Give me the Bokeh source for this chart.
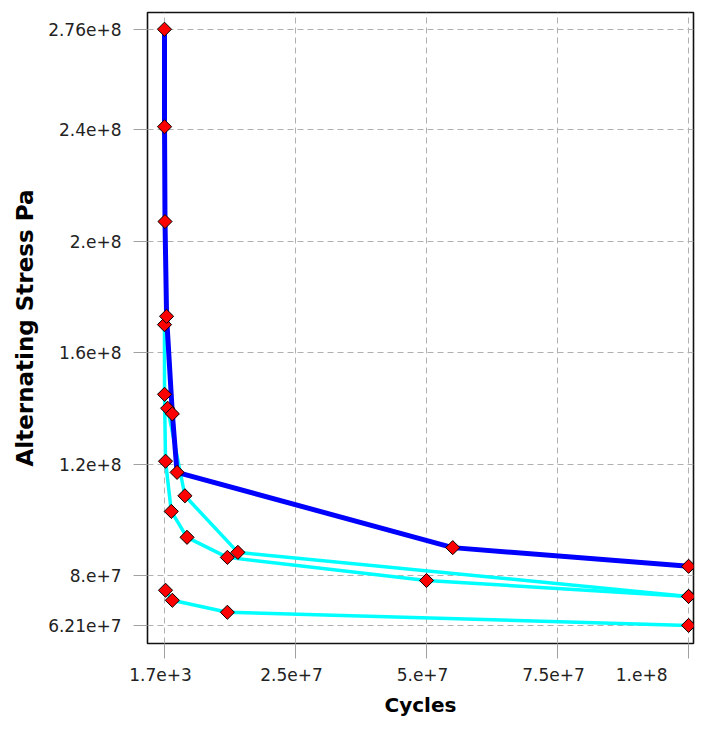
import math
from bokeh.plotting import figure
from bokeh.models import Range1d, FixedTicker, LinearAxis
from bokeh.embed import file_html
from bokeh.resources import INLINE

# ---- data ----
blue_cycles = [1.7e3, 1.0e4, 1.0e5, 4.0e5, 1.5e6, 2.4e6, 5.5e7, 1.0e8]
blue_stress = [2.76e8, 2.41e8, 2.07e8, 1.73e8, 1.38e8, 1.17e8, 9.0e7, 8.33e7]

cyan1_cycles = [1.7e3, 1.0e4, 2.0e5, 1.3e6, 4.3e6, 1.2e7, 5.0e7, 1.0e8]
cyan1_stress = [1.70e8, 1.45e8, 1.21e8, 1.03e8, 9.37e7, 8.65e7, 7.82e7, 7.25e7]

cyan2_cycles = [6.0e5, 3.9e6, 1.4e7, 1.0e8]
cyan2_stress = [1.40e8, 1.086e8, 8.83e7, 7.25e7]

cyan3_cycles = [2.0e5, 1.5e6, 1.2e7, 1.0e8]
cyan3_stress = [7.47e7, 7.11e7, 6.68e7, 6.21e7]

x_ticks = [1.7e3, 2.5e7, 5.0e7, 7.5e7, 1.0e8]
x_tick_labels = ["1.7e+3", "2.5e+7", "5.e+7", "7.5e+7", "1.e+8"]
y_ticks = [6.21e7, 8.0e7, 1.2e8, 1.6e8, 2.0e8, 2.4e8, 2.76e8]
y_tick_labels = ["6.21e+7", "8.e+7", "1.2e+8", "1.6e+8", "2.e+8", "2.4e+8", "2.76e+8"]

x_title = "Cycles"
y_title = "Alternating Stress Pa"

# ---- layout ----
W, H = 695, 720
BL, BR, BT, BB = 147, 2, 12, 77
X0, X1 = -3.24e6, 1.0094e8
Y0, Y1 = 5.56e7, 2.82e8
frame_w = W - BL - BR
label_shift_px = 4          # tick labels sit slightly left of their ticks
last_label_shift_px = 47    # the last x label is pulled left so that it stays inside the canvas

p = figure(width=W, height=H, output_backend="svg", toolbar_location=None,
           x_range=Range1d(X0, X1), y_range=Range1d(Y0, Y1),
           min_border_left=BL, min_border_right=BR, min_border_top=BT, min_border_bottom=BB,
           x_axis_location=None)
p.background_fill_color = "white"
p.border_fill_color = "white"
p.outline_line_color = "#111111"
p.outline_line_width = 1.6

TICK = "#a0a0a0"
LBL_FONT = "DejaVu Sans"

# x axis 1: tick marks only (closest to the frame)
ax_ticks = LinearAxis(ticker=FixedTicker(ticks=x_ticks))
ax_ticks.axis_line_color = None
ax_ticks.major_tick_line_color = TICK
ax_ticks.major_tick_in = 0
ax_ticks.major_tick_out = 15
ax_ticks.minor_tick_line_color = None
ax_ticks.major_label_overrides = {t: "" for t in x_ticks}
ax_ticks.major_label_text_font_size = "1px"
ax_ticks.major_label_standoff = 0
p.add_layout(ax_ticks, "below")

# x axis 2: tick labels and title
dx_per_px = (X1 - X0) / frame_w
label_pos = [t - label_shift_px * dx_per_px for t in x_ticks[:-1]] + \
            [x_ticks[-1] - last_label_shift_px * dx_per_px]
ax_lbl = LinearAxis(ticker=FixedTicker(ticks=label_pos))
ax_lbl.axis_line_color = None
ax_lbl.major_tick_line_color = None
ax_lbl.major_tick_in = 0
ax_lbl.major_tick_out = 0
ax_lbl.minor_tick_line_color = None
ax_lbl.major_label_overrides = dict(zip(label_pos, x_tick_labels))
ax_lbl.major_label_text_font = LBL_FONT
ax_lbl.major_label_text_font_size = "17px"
ax_lbl.major_label_text_color = "#222222"
ax_lbl.major_label_standoff = 9
ax_lbl.axis_label = x_title
ax_lbl.axis_label_text_font = LBL_FONT
ax_lbl.axis_label_text_font_style = "bold"
ax_lbl.axis_label_text_font_size = "20px"
ax_lbl.axis_label_text_color = "#000000"
ax_lbl.axis_label_standoff = 9
p.add_layout(ax_lbl, "below")

# y axis
ay = p.yaxis[0]
ay.ticker = FixedTicker(ticks=y_ticks)
ay.major_label_overrides = dict(zip(y_ticks, y_tick_labels))
ay.axis_line_color = None
ay.major_tick_line_color = TICK
ay.major_tick_in = 0
ay.major_tick_out = 14
ay.minor_tick_line_color = None
ay.major_label_text_font = LBL_FONT
ay.major_label_text_font_size = "17px"
ay.major_label_text_color = "#222222"
ay.major_label_standoff = 12
ay.axis_label = y_title
ay.axis_label_text_font = LBL_FONT
ay.axis_label_text_font_style = "bold"
ay.axis_label_text_font_size = "23px"
ay.axis_label_text_color = "#000000"
ay.axis_label_standoff = 7

# grid
p.xgrid.ticker = FixedTicker(ticks=x_ticks)
p.ygrid.ticker = FixedTicker(ticks=y_ticks)
for g in (p.xgrid[0], p.ygrid[0]):
    g.grid_line_color = "#b0b0b0"
    g.grid_line_dash = "6 4"
    g.grid_line_width = 1

# ---- curves ----
cyan = "#00ffff"
for cx, cy in ((cyan1_cycles, cyan1_stress), (cyan2_cycles, cyan2_stress), (cyan3_cycles, cyan3_stress)):
    p.line(cx, cy, line_color=cyan, line_width=3.5)
p.line(blue_cycles, blue_stress, line_color="#0000ff", line_width=5)

for cx, cy in ((cyan1_cycles, cyan1_stress), (cyan2_cycles, cyan2_stress),
               (cyan3_cycles, cyan3_stress), (blue_cycles, blue_stress)):
    p.scatter(cx, cy, marker="square", angle=math.pi / 4, size=10,
              fill_color="#ff0000", line_color="#000000", line_width=1)

open("out.html", "w").write(file_html(p, INLINE))
